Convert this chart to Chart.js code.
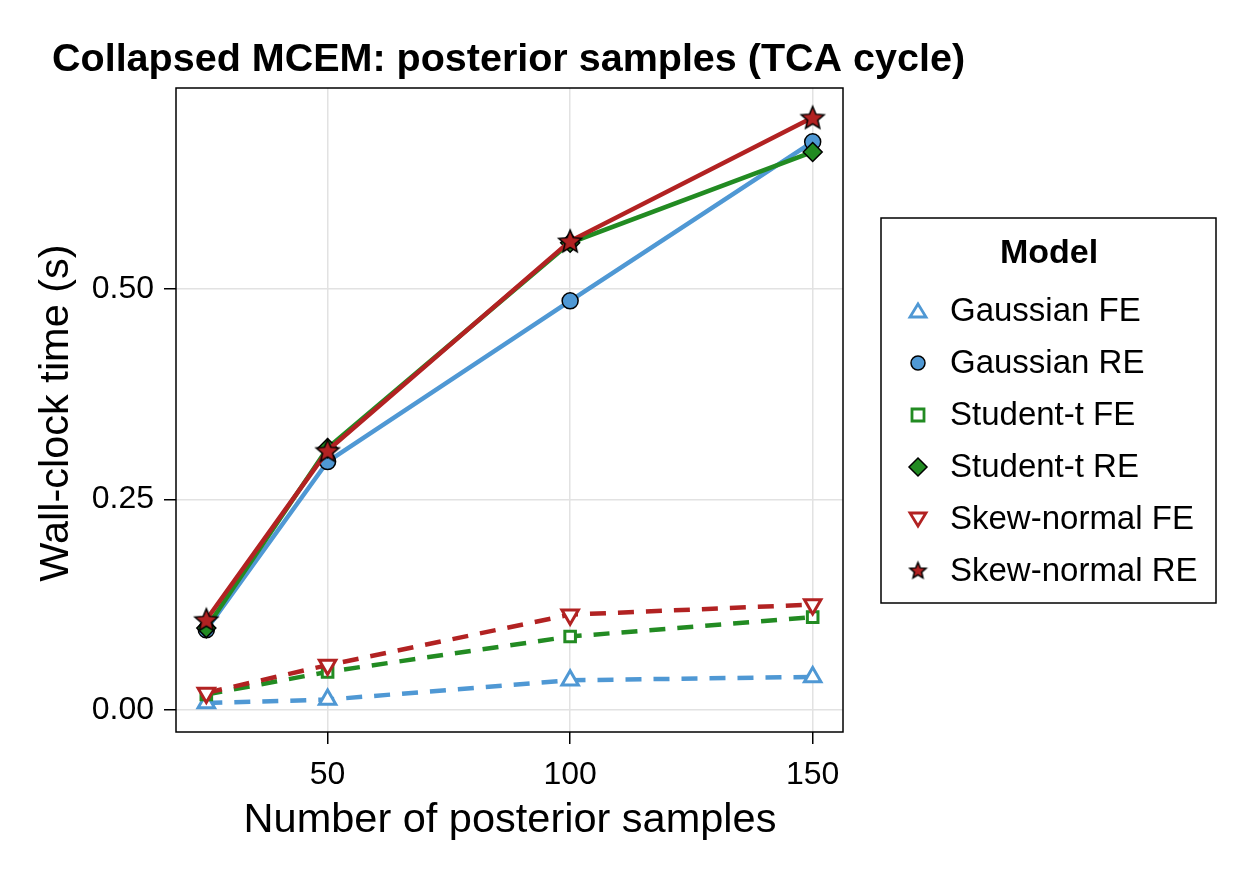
<!DOCTYPE html>
<html>
<head>
<meta charset="utf-8">
<script src="https://cdn.jsdelivr.net/npm/chart.js@4/dist/chart.umd.min.js"></script>
<style>
  html, body { margin: 0; padding: 0; background: #fff; }
  #wrap { width: 1250px; height: 875px; }
</style>
</head>
<body>
<div id="wrap"><canvas id="chart" width="1250" height="875"></canvas></div>
<script>
// data
const samples = [25, 50, 100, 150];
const gaussFE = [0.008, 0.012, 0.035, 0.039];
const gaussRE = [0.095, 0.295, 0.486, 0.675];
const studFE = [0.018, 0.045, 0.087, 0.110];
const studRE = [0.097, 0.311, 0.555, 0.663];
const skewFE = [0.020, 0.053, 0.113, 0.125];
const skewRE = [0.107, 0.308, 0.557, 0.704];
const xTicks = [50, 100, 150];
const yTicks = [0, 0.25, 0.5];

const BLUE = '#4f98d4';
const GREEN = '#228b22';
const RED = '#b22222';
const FONT = '"Liberation Sans", Arial, sans-serif';

// filled star marker with black outline
function starImage(size, fill) {
  const c = document.createElement('canvas');
  c.width = size; c.height = size;
  const g = c.getContext('2d');
  const cx = size / 2, cy = size / 2 + 1, ro = size / 2 - 2, ri = ro * 0.45;
  g.beginPath();
  for (let i = 0; i < 10; i++) {
    const r = i % 2 ? ri : ro;
    const a = -Math.PI / 2 + i * Math.PI / 5;
    g.lineTo(cx + r * Math.cos(a), cy + r * Math.sin(a));
  }
  g.closePath();
  g.fillStyle = fill; g.fill();
  g.lineWidth = 1.5; g.strokeStyle = '#000'; g.stroke();
  return c;
}
const star = starImage(28, RED);
const starSmall = starImage(21, RED);

const pts = ys => samples.map((x, i) => ({ x: x, y: ys[i] }));

const series = [
  { label: 'Gaussian FE', data: gaussFE, color: BLUE, dashed: true, style: 'triangle', rot: 0 },
  { label: 'Gaussian RE', data: gaussRE, color: BLUE, dashed: false, style: 'circle', rot: 0 },
  { label: 'Student-t FE', data: studFE, color: GREEN, dashed: true, style: 'rect', rot: 0 },
  { label: 'Student-t RE', data: studRE, color: GREEN, dashed: false, style: 'rectRot', rot: 0 },
  { label: 'Skew-normal FE', data: skewFE, color: RED, dashed: true, style: 'triangle', rot: 180 },
  { label: 'Skew-normal RE', data: skewRE, color: RED, dashed: false, style: 'star', rot: 0 }
];

const sizes = { triangle: 9.5, circle: 8, rect: 7.5, rectRot: 9.5, star: 8 };

const datasets = series.map((s, i) => ({
  label: s.label,
  data: pts(s.data),
  borderColor: s.color,
  borderWidth: 4.5,
  borderDash: s.dashed ? [16, 12] : [],
  fill: false,
  tension: 0,
  order: series.length - i,
  pointStyle: s.style === 'star' ? star : s.style,
  pointRotation: s.rot,
  pointRadius: sizes[s.style],
  pointBackgroundColor: s.dashed ? '#fff' : s.color,
  pointBorderColor: s.dashed ? s.color : '#000',
  pointBorderWidth: s.dashed ? 3 : 1.5
}));

function legendMarker(ctx, s, x, y) {
  ctx.save();
  ctx.translate(x, y);
  ctx.fillStyle = s.dashed ? '#fff' : s.color;
  ctx.strokeStyle = s.dashed ? s.color : '#000';
  ctx.lineWidth = s.dashed ? 2.8 : 1.5;
  ctx.beginPath();
  if (s.style === 'star') {
    ctx.drawImage(starSmall, -10.5, -11.5);
    ctx.restore();
    return;
  } else if (s.style === 'circle') {
    ctx.arc(0, 0, 7, 0, Math.PI * 2);
  } else if (s.style === 'rect') {
    ctx.rect(-6, -6, 12, 12);
  } else if (s.style === 'rectRot') {
    ctx.moveTo(0, -9); ctx.lineTo(9, 0); ctx.lineTo(0, 9); ctx.lineTo(-9, 0); ctx.closePath();
  } else if (s.style === 'triangle') {
    const d = s.rot ? -1 : 1;
    ctx.moveTo(0, -7 * d); ctx.lineTo(8, 6 * d); ctx.lineTo(-8, 6 * d); ctx.closePath();
  }
  ctx.fill();
  ctx.stroke();
  ctx.restore();
}

const decor = {
  id: 'decor',
  afterDraw(chart) {
    const ctx = chart.ctx;
    const a = chart.chartArea;
    ctx.save();
    // frame
    ctx.strokeStyle = '#000';
    ctx.lineWidth = 1.5;
    ctx.strokeRect(a.left, a.top, a.right - a.left, a.bottom - a.top);

    ctx.fillStyle = '#000';
    ctx.font = 'bold 39.5px ' + FONT;
    ctx.textAlign = 'left';
    ctx.textBaseline = 'middle';
    ctx.fillText('Collapsed MCEM: posterior samples (TCA cycle)', 52, 60);

    ctx.font = '41.5px ' + FONT;
    ctx.textAlign = 'center';
    ctx.fillText('Number of posterior samples', 510, 821);

    ctx.save();
    ctx.translate(57, 413);
    ctx.rotate(-Math.PI / 2);
    ctx.fillText('Wall-clock time (s)', 0, 0);
    ctx.restore();

    // legend
    const lx = 881, ly = 218, lw = 335, lh = 385;
    ctx.fillStyle = '#fff';
    ctx.fillRect(lx, ly, lw, lh);
    ctx.strokeStyle = '#000';
    ctx.lineWidth = 1.5;
    ctx.strokeRect(lx, ly, lw, lh);
    ctx.fillStyle = '#000';
    ctx.font = 'bold 34px ' + FONT;
    ctx.textAlign = 'center';
    ctx.fillText('Model', 1049, 254);
    ctx.font = '33px ' + FONT;
    ctx.textAlign = 'left';
    series.forEach((s, i) => {
      const y = 311 + i * 52;
      legendMarker(ctx, s, 918, y);
      ctx.fillStyle = '#000';
      ctx.fillText(s.label, 950, y + 1);
    });
    ctx.restore();
  }
};

new Chart(document.getElementById('chart'), {
  type: 'line',
  data: { datasets: datasets },
  options: {
    responsive: false,
    animation: false,
    layout: { padding: { left: 0, top: 88, right: 407, bottom: 0 } },
    plugins: { legend: { display: false }, tooltip: { enabled: false } },
    scales: {
      x: {
        type: 'linear',
        min: 18.75,
        max: 156.25,
        afterBuildTicks: s => { s.ticks = xTicks.map(v => ({ value: v })); },
        afterFit: s => { s.height = 143; },
        grid: { color: '#e2e2e2', lineWidth: 1.5, tickColor: '#000', tickLength: 12, tickWidth: 1.5 },
        border: { display: false },
        ticks: { color: '#000', font: { family: FONT, size: 32 }, padding: 12, maxRotation: 0 }
      },
      y: {
        type: 'linear',
        min: -0.0265,
        max: 0.739,
        afterBuildTicks: s => { s.ticks = yTicks.map(v => ({ value: v })); },
        afterFit: s => { s.width = 176; },
        grid: { color: '#e2e2e2', lineWidth: 1.5, tickColor: '#000', tickLength: 12, tickWidth: 1.5 },
        border: { display: false },
        ticks: { color: '#000', font: { family: FONT, size: 32 }, padding: 10, callback: v => v.toFixed(2) }
      }
    }
  },
  plugins: [decor]
});
</script>
</body>
</html>
